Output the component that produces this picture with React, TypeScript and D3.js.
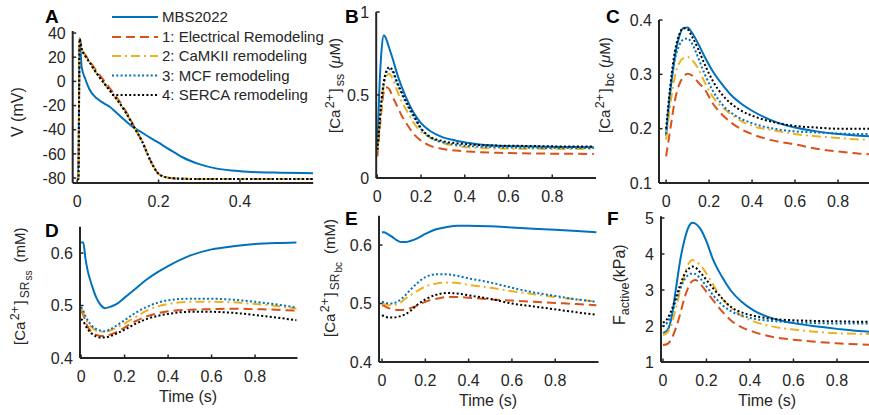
import React from "react";
import * as d3 from "d3";

// ---------- legend / series ----------
const seriesNames = [
  "MBS2022",
  "1: Electrical Remodeling",
  "2: CaMKII remodeling",
  "3: MCF remodeling",
  "4: SERCA remodeling",
];
const seriesColors = ["#0072BD", "#D95319", "#EDB120", "#0072BD", "#000000"];
const seriesDash = ["", "9,5", "9,4,2,4", "2,2.3", "2,2.3"];

// ---------- Panel A: V (mV) ----------
const tA = [0, 0.003, 0.006, 0.011, 0.02, 0.03, 0.048, 0.065, 0.08, 0.1, 0.12, 0.14, 0.16, 0.18, 0.2, 0.22, 0.24, 0.26, 0.3, 0.34, 0.38, 0.42, 0.5, 0.58];
const vA_MBS = [-76, -76, 36, 12, 2, -6.5, -14, -18, -21, -27, -33, -38.5, -42.5, -46.8, -50.7, -55, -59, -63, -68.5, -72, -73.8, -74.8, -75.6, -76];
const vA_Elec = [-81, -81, 35, 27.5, 22, 17, 8.5, 1, -5.5, -14.5, -25, -37.5, -50, -65.5, -76.5, -79.5, -80.3, -80.6, -80.8, -80.8, -80.8, -80.8, -80.8, -80.8];
const vA_CaMKII = [-81, -81, 35, 27, 21, 16, 6.6, -1, -7.5, -16, -26, -38, -50, -65.5, -76.5, -79.5, -80.3, -80.6, -80.8, -80.8, -80.8, -80.8, -80.8, -80.8];
const vA_MCF = [-81, -81, 35, 27, 21, 16, 6.6, -1, -7.5, -16, -26, -38, -50, -65.5, -76.5, -79.5, -80.3, -80.6, -80.8, -80.8, -80.8, -80.8, -80.8, -80.8];
const vA_SERCA = [-81, -81, 35, 27, 21, 16, 6.6, -1, -7.5, -16, -26, -38, -50, -65.5, -76.5, -79.5, -80.3, -80.6, -80.8, -80.8, -80.8, -80.8, -80.8, -80.8];

// ---------- Panel B: [Ca2+]ss (uM) ----------
const tB = [0, 0.01, 0.02, 0.03, 0.04, 0.055, 0.07, 0.09, 0.11, 0.14, 0.17, 0.2, 0.24, 0.3, 0.36, 0.45, 0.55, 0.7, 0.85, 0.99];
const vB_MBS = [0.17, 0.55, 0.78, 0.86, 0.84, 0.78, 0.72, 0.63, 0.555, 0.46, 0.385, 0.33, 0.285, 0.245, 0.225, 0.205, 0.195, 0.19, 0.187, 0.185];
const vB_Elec = [0.13, 0.28, 0.42, 0.52, 0.546, 0.535, 0.49, 0.435, 0.38, 0.315, 0.26, 0.225, 0.195, 0.175, 0.165, 0.157, 0.152, 0.148, 0.146, 0.145];
const vB_CaMKII = [0.16, 0.3, 0.45, 0.56, 0.61, 0.627, 0.6, 0.53, 0.465, 0.395, 0.325, 0.28, 0.245, 0.21, 0.193, 0.182, 0.178, 0.176, 0.175, 0.175];
const vB_MCF = [0.17, 0.32, 0.47, 0.57, 0.63, 0.655, 0.64, 0.57, 0.51, 0.43, 0.36, 0.295, 0.245, 0.215, 0.2, 0.19, 0.185, 0.182, 0.18, 0.18];
const vB_SERCA = [0.17, 0.32, 0.48, 0.58, 0.64, 0.667, 0.65, 0.58, 0.52, 0.44, 0.37, 0.3, 0.25, 0.222, 0.21, 0.2, 0.195, 0.193, 0.19, 0.19];

// ---------- Panel C: [Ca2+]bc (uM) ----------
const tC = [0, 0.02, 0.04, 0.06, 0.08, 0.1, 0.12, 0.15, 0.18, 0.22, 0.26, 0.3, 0.35, 0.4, 0.5, 0.6, 0.7, 0.8, 0.9, 1.0];
const vC_MBS = [0.187, 0.27, 0.33, 0.368, 0.385, 0.386, 0.377, 0.356, 0.332, 0.304, 0.282, 0.263, 0.246, 0.233, 0.214, 0.202, 0.195, 0.19, 0.187, 0.185];
const vC_Elec = [0.149, 0.2, 0.25, 0.28, 0.295, 0.301, 0.298, 0.285, 0.272, 0.245, 0.226, 0.212, 0.199, 0.19, 0.178, 0.171, 0.163, 0.158, 0.154, 0.152];
const vC_CaMKII = [0.18, 0.245, 0.295, 0.32, 0.33, 0.332, 0.327, 0.31, 0.285, 0.257, 0.24, 0.227, 0.214, 0.205, 0.197, 0.19, 0.186, 0.183, 0.18, 0.18];
const vC_MCF = [0.19, 0.27, 0.325, 0.352, 0.364, 0.366, 0.357, 0.33, 0.3, 0.268, 0.245, 0.23, 0.218, 0.21, 0.2, 0.195, 0.193, 0.191, 0.19, 0.19];
const vC_SERCA = [0.2, 0.28, 0.34, 0.372, 0.385, 0.383, 0.37, 0.346, 0.318, 0.286, 0.263, 0.247, 0.233, 0.224, 0.212, 0.205, 0.202, 0.2, 0.2, 0.2];

// ---------- Panel D: [Ca2+]SRss (mM) ----------
const tD = [0, 0.01, 0.02, 0.03, 0.05, 0.07, 0.09, 0.11, 0.13, 0.16, 0.2, 0.25, 0.3, 0.35, 0.4, 0.5, 0.6, 0.7, 0.8, 0.9, 0.99];
const vD_MBS = [0.62, 0.62, 0.59, 0.567, 0.538, 0.515, 0.501, 0.495, 0.497, 0.502, 0.515, 0.532, 0.549, 0.563, 0.575, 0.595, 0.607, 0.613, 0.617, 0.619, 0.62];
const vD_Elec = [0.49, 0.482, 0.47, 0.46, 0.449, 0.444, 0.442, 0.442, 0.444, 0.449, 0.458, 0.47, 0.479, 0.485, 0.489, 0.492, 0.493, 0.494, 0.493, 0.492, 0.49];
const vD_CaMKII = [0.494, 0.487, 0.476, 0.468, 0.458, 0.452, 0.45, 0.45, 0.452, 0.457, 0.466, 0.478, 0.49, 0.498, 0.503, 0.507, 0.507, 0.506, 0.503, 0.499, 0.494];
const vD_MCF = [0.497, 0.49, 0.48, 0.472, 0.461, 0.455, 0.452, 0.451, 0.454, 0.461, 0.472, 0.486, 0.497, 0.505, 0.51, 0.513, 0.513, 0.511, 0.507, 0.502, 0.496];
const vD_SERCA = [0.474, 0.47, 0.462, 0.455, 0.446, 0.441, 0.439, 0.439, 0.441, 0.446, 0.454, 0.465, 0.474, 0.48, 0.484, 0.488, 0.488, 0.486, 0.482, 0.477, 0.472];

// ---------- Panel E: [Ca2+]SRbc (mM) ----------
const tE = [0, 0.01, 0.02, 0.03, 0.05, 0.07, 0.09, 0.11, 0.13, 0.16, 0.2, 0.25, 0.3, 0.35, 0.4, 0.5, 0.6, 0.7, 0.8, 0.9, 0.99];
const vE_MBS = [0.622, 0.622, 0.62, 0.618, 0.613, 0.608, 0.605, 0.605, 0.607, 0.611, 0.619, 0.627, 0.631, 0.633, 0.633, 0.632, 0.63, 0.628, 0.626, 0.624, 0.622];
const vE_Elec = [0.497, 0.496, 0.494, 0.492, 0.49, 0.489, 0.489, 0.49, 0.492, 0.496, 0.503, 0.508, 0.511, 0.511, 0.51, 0.507, 0.505, 0.503, 0.501, 0.499, 0.497];
const vE_CaMKII = [0.5, 0.499, 0.498, 0.497, 0.497, 0.499, 0.503, 0.509, 0.514, 0.521, 0.529, 0.534, 0.536, 0.535, 0.532, 0.527, 0.521, 0.516, 0.511, 0.507, 0.503];
const vE_MCF = [0.503, 0.502, 0.501, 0.5, 0.5, 0.503, 0.508, 0.515, 0.523, 0.534, 0.545, 0.55, 0.55, 0.547, 0.543, 0.536, 0.527, 0.519, 0.513, 0.507, 0.503];
const vE_SERCA = [0.48, 0.478, 0.477, 0.476, 0.476, 0.477, 0.479, 0.482, 0.487, 0.497, 0.507, 0.515, 0.518, 0.517, 0.514, 0.508, 0.5, 0.495, 0.49, 0.485, 0.481];

// ---------- Panel F: F_active (kPa) ----------
const tF = [0, 0.02, 0.04, 0.06, 0.08, 0.1, 0.12, 0.135, 0.15, 0.17, 0.2, 0.23, 0.27, 0.31, 0.36, 0.42, 0.5, 0.6, 0.7, 0.8, 0.9, 1.0];
const vF_MBS = [1.81, 1.88, 2.25, 3.05, 3.85, 4.42, 4.78, 4.87, 4.84, 4.72, 4.35, 3.85, 3.38, 3.0, 2.68, 2.42, 2.22, 2.08, 1.99, 1.92, 1.86, 1.83];
const vF_Elec = [1.47, 1.5, 1.65, 1.95, 2.35, 2.8, 3.12, 3.25, 3.28, 3.18, 2.95, 2.72, 2.42, 2.17, 1.97, 1.83, 1.7, 1.62, 1.56, 1.52, 1.49, 1.47];
const vF_CaMKII = [1.75, 1.82, 2.05, 2.5, 3.0, 3.45, 3.75, 3.83, 3.8, 3.7, 3.46, 3.15, 2.78, 2.52, 2.29, 2.12, 1.99, 1.9, 1.84, 1.8, 1.78, 1.77];
const vF_MCF = [1.98, 2.1, 2.35, 2.7, 3.05, 3.3, 3.43, 3.46, 3.44, 3.33, 3.1, 2.86, 2.6, 2.42, 2.3, 2.2, 2.14, 2.1, 2.08, 2.07, 2.07, 2.07];
const vF_SERCA = [2.09, 2.2, 2.45, 2.8, 3.15, 3.45, 3.6, 3.65, 3.62, 3.5, 3.28, 3.05, 2.78, 2.54, 2.38, 2.28, 2.2, 2.16, 2.14, 2.13, 2.12, 2.12];

// ---------- tick labels ----------
const xTicksTop = [0, 0.2, 0.4, 0.6, 0.8];
const xTicksA = [0, 0.2, 0.4];
const yTicksA = [-80, -60, -40, -20, 0, 20, 40];
const yTicksB = [0, 0.5, 1];
const yTicksC = [0.1, 0.2, 0.3, 0.4];
const yTicksD = [0.4, 0.5, 0.6];
const yTicksE = [0.4, 0.5, 0.6];
const yTicksF = [1, 2, 3, 4, 5];

const FONT = "'Liberation Sans', Arial, Helvetica, sans-serif";
const INK = "#262626";

type Panel = {
  id: string;
  t: number[];
  series: number[][];
  xDomain: [number, number];
  xRange: [number, number];
  yDomain: [number, number];
  yRange: [number, number];
  xTicks: number[];
  yTicks: number[];
  timeX?: number;
};

const panels: Panel[] = [
  { id: "A", t: tA, series: [vA_MBS, vA_Elec, vA_CaMKII, vA_MCF, vA_SERCA], xDomain: [-0.011, 0.58], xRange: [72.7, 313.2], yDomain: [-84.1, 41.7], yRange: [183, 31], xTicks: xTicksA, yTicks: yTicksA },
  { id: "B", t: tB, series: [vB_MBS, vB_Elec, vB_CaMKII, vB_MCF, vB_SERCA], xDomain: [-0.005, 1.0], xRange: [376.2, 596], yDomain: [0, 1], yRange: [178, 12], xTicks: xTicksTop, yTicks: yTicksB },
  { id: "C", t: tC, series: [vC_MBS, vC_Elec, vC_CaMKII, vC_MCF, vC_SERCA], xDomain: [-0.033, 1.0], xRange: [659, 881], yDomain: [0.1, 0.4], yRange: [183, 20], xTicks: xTicksTop, yTicks: yTicksC },
  { id: "D", t: tD, series: [vD_MBS, vD_Elec, vD_CaMKII, vD_MCF, vD_SERCA], xDomain: [-0.005, 0.995], xRange: [80, 297.5], yDomain: [0.4, 0.65], yRange: [358, 226.8], xTicks: xTicksTop, yTicks: yTicksD, timeX: 188 },
  { id: "E", t: tE, series: [vE_MBS, vE_Elec, vE_CaMKII, vE_MCF, vE_SERCA], xDomain: [-0.014, 1.0], xRange: [379, 598.5], yDomain: [0.4, 0.65], yRange: [362, 215.8], xTicks: xTicksTop, yTicks: yTicksE, timeX: 488 },
  { id: "F", t: tF, series: [vF_MBS, vF_Elec, vF_CaMKII, vF_MCF, vF_SERCA], xDomain: [-0.009, 1.0], xRange: [661, 880.5], yDomain: [1, 5.05], yRange: [362, 216.2], xTicks: xTicksTop, yTicks: yTicksF, timeX: 767 },
];

const fmt = (v: number) => String(+v.toFixed(2));

function PanelView({ p }: { p: Panel }) {
  const x = d3.scaleLinear().domain(p.xDomain).range(p.xRange);
  const y = d3.scaleLinear().domain(p.yDomain).range(p.yRange);
  const x0 = p.xRange[0];
  const y0 = p.yRange[0];
  const clipId = `clip-${p.id}`;
  const line = d3
    .line<number>()
    .x((_, i) => x(p.t[i]))
    .y((d) => y(d))
    .curve(d3.curveMonotoneX);
  return (
    <g>
      <defs>
        <clipPath id={clipId}>
          <rect x={x0} y={p.yRange[1] - 4} width={p.xRange[1] - x0} height={y0 - p.yRange[1] + 6} />
        </clipPath>
      </defs>
      <g clipPath={`url(#${clipId})`}>
        {p.series.map((s, i) => (
          <path
            key={i}
            d={line(s) || ""}
            fill="none"
            stroke={seriesColors[i]}
            strokeWidth={2}
            strokeDasharray={seriesDash[i] || undefined}
            strokeLinejoin="round"
          />
        ))}
      </g>
      {/* axes */}
      <line x1={x0} x2={p.xRange[1]} y1={y0} y2={y0} stroke={INK} strokeWidth={2} />
      <line x1={x0} x2={x0} y1={y0} y2={p.yRange[1]} stroke={INK} strokeWidth={2} />
      {p.xTicks.map((v) => (
        <g key={`xt${v}`}>
          <line x1={x(v)} x2={x(v)} y1={y0} y2={y0 - 3.5} stroke={INK} strokeWidth={1.5} />
          <text x={x(v)} y={y0 + 24} textAnchor="middle" fontSize={16} fill={INK} fontFamily={FONT}>
            {fmt(v)}
          </text>
        </g>
      ))}
      {p.yTicks.map((v) => (
        <g key={`yt${v}`}>
          <line x1={x0} x2={x0 + 3.5} y1={y(v)} y2={y(v)} stroke={INK} strokeWidth={1.5} />
          <text x={x0 - 7} y={y(v)} dy="0.36em" textAnchor="end" fontSize={16} fill={INK} fontFamily={FONT}>
            {fmt(v)}
          </text>
        </g>
      ))}
      {p.timeX !== undefined && (
        <text x={p.timeX} y={y0 + 44} textAnchor="middle" fontSize={16} fill={INK} fontFamily={FONT}>
          Time (s)
        </text>
      )}
    </g>
  );
}

function CaLabel({ x, y, sub, subsub, unit, mu }: { x: number; y: number; sub: string; subsub?: string; unit: string; mu: boolean }) {
  return (
    <text transform={`translate(${x},${y}) rotate(-90)`} fontSize={15} fill={INK} fontFamily={FONT}>
      <tspan>[Ca</tspan>
      <tspan fontSize={12.5} dx={1.5} dy={-6.5}>2+</tspan>
      <tspan dx={1.5} dy={6.5}>]</tspan>
      <tspan fontSize={subsub ? 12 : 12.5} dx={2} dy={4}>{sub}</tspan>
      {subsub ? (
        <>
          <tspan fontSize={10} dx={1} dy={3}>{subsub}</tspan>
          <tspan dx={8} dy={-7}>(</tspan>
        </>
      ) : (
        <tspan dx={5} dy={-4}>(</tspan>
      )}
      {mu ? <tspan fontStyle="italic">μ</tspan> : null}
      <tspan>{unit}</tspan>
    </text>
  );
}

export default function App() {
  const legendX1 = 112;
  const legendX2 = 158;
  const legendY = [17, 37, 56, 75.5, 95];
  return (
    <svg
      width={869}
      height={415}
      style={{ position: "absolute", left: 0, top: 0, background: "#fff" }}
      fontFamily={FONT}
    >
      <rect width={869} height={415} fill="#fff" />
      {panels.map((p) => (
        <PanelView key={p.id} p={p} />
      ))}

      {/* panel letters */}
      {[
        ["A", 45, 23],
        ["B", 345, 23],
        ["C", 606, 23],
        ["D", 45, 237],
        ["E", 345, 225],
        ["F", 607, 225],
      ].map(([l, lx, ly]) => (
        <text key={l as string} x={lx as number} y={ly as number} fontSize={19} fontWeight="bold" fill="#000" fontFamily={FONT}>
          {l}
        </text>
      ))}

      {/* y labels */}
      <text transform="translate(23,137) rotate(-90)" fontSize={16} fill={INK} fontFamily={FONT}>V (mV)</text>
      <CaLabel x={340} y={133} sub="ss" unit="M)" mu={true} />
      <CaLabel x={610} y={133} sub="bc" unit="M)" mu={true} />
      <CaLabel x={25} y={345} sub="SR" subsub="ss" unit="mM)" mu={false} />
      <CaLabel x={335} y={337} sub="SR" subsub="bc" unit="mM)" mu={false} />
      <text transform="translate(625,325) rotate(-90)" fontSize={16} fill={INK} fontFamily={FONT}>
        <tspan>F</tspan>
        <tspan fontSize={12.5} dy={4}>active</tspan>
        <tspan dy={-4}>(kPa)</tspan>
      </text>

      {/* legend */}
      {seriesNames.map((n, i) => (
        <g key={n}>
          <line
            x1={legendX1}
            x2={legendX2}
            y1={legendY[i]}
            y2={legendY[i]}
            stroke={seriesColors[i]}
            strokeWidth={2}
            strokeDasharray={seriesDash[i] || undefined}
          />
          <text x={legendX2 + 4} y={legendY[i]} dy="0.36em" fontSize={15} fill={INK} fontFamily={FONT}>
            {n}
          </text>
        </g>
      ))}
    </svg>
  );
}
